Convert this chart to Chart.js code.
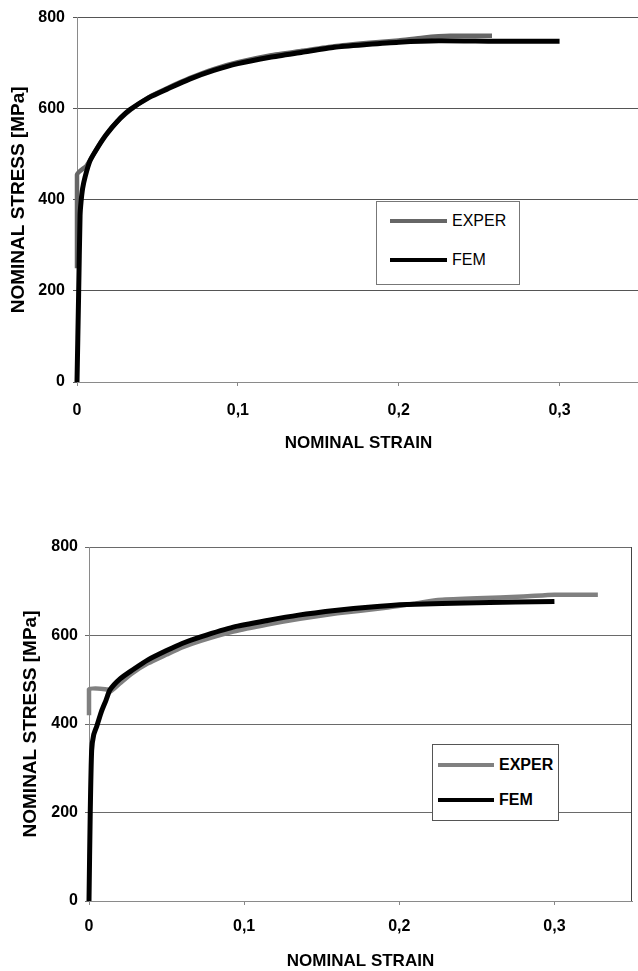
<!DOCTYPE html>
<html>
<head>
<meta charset="utf-8">
<title>Nominal stress vs nominal strain</title>
<script src="https://cdn.jsdelivr.net/npm/chart.js@4.4.1/dist/chart.umd.min.js"></script>
<style>
  html, body { margin: 0; padding: 0; background: #fff; width: 638px; height: 971px; overflow: hidden; }
  .wrap { position: absolute; left: 0; }
  #topWrap { top: 0; width: 650px; height: 470px; }
  #botWrap { top: 480px; width: 638px; height: 500px; }
  .legend {
    position: absolute; background: #fff; box-sizing: border-box;
    font-family: "Liberation Sans", Arial, sans-serif; color: #000;
  }
  .legend .row { position: absolute; left: 0; height: 20px; }
  .legend .swatch { position: absolute; top: 8px; height: 4px; }
  .legend .lbl { position: absolute; top: 0; line-height: 20px; font-size: 16px; }
  #topLegend { left: 376px; top: 201px; width: 144px; height: 84px; border: 1px solid #777; }
  #botLegend { left: 432px; top: 744px; width: 127px; height: 77px; border: 1px solid #555; }
  #botLegend .lbl { font-weight: bold; }
</style>
</head>
<body>
<div class="wrap" id="topWrap"><canvas id="topChart" width="650" height="470"></canvas></div>
<div class="wrap" id="botWrap"><canvas id="botChart" width="638" height="500"></canvas></div>
<div class="legend" id="topLegend"></div>
<div class="legend" id="botLegend"></div>

<script>
// tick labels
const strainTicks = [0, 0.1, 0.2, 0.3];
const stressTicks = [0, 200, 400, 600, 800];

// top chart - experiment
const topExpStrain = [0, 0, 0.006, 0.01, 0.015, 0.02, 0.027, 0.035, 0.045, 0.056, 0.07, 0.085, 0.1, 0.12, 0.14, 0.16, 0.18, 0.2, 0.215, 0.232, 0.258];
const topExpStress = [250, 455, 475, 498, 528, 552, 578, 602, 626, 645, 667, 687, 702, 717, 727, 737, 744, 750, 756, 760, 760];

// top chart - FEM
const topFemStrain = [0, 0.001, 0.0019, 0.0025, 0.0035, 0.005, 0.008, 0.012, 0.018, 0.025, 0.033, 0.045, 0.056, 0.07, 0.085, 0.1, 0.12, 0.14, 0.16, 0.18, 0.2, 0.225, 0.26, 0.3];
const topFemStress = [0, 190, 365, 395, 425, 450, 485, 510, 542, 572, 598, 625, 643, 665, 684, 699, 713, 724, 735, 741, 746, 749, 748, 748];

// bottom chart - experiment
const botExpStrain = [0, 0, 0.012, 0.014, 0.02, 0.028, 0.038, 0.05, 0.06, 0.072, 0.093, 0.115, 0.136, 0.16, 0.19, 0.21, 0.225, 0.25, 0.28, 0.3, 0.328];
const botExpStress = [420, 478, 478, 474, 492, 515, 537, 557, 573, 588, 609, 625, 638, 650, 662, 672, 680, 684, 688, 692, 692];

// bottom chart - FEM
const botFemStrain = [0, 0.0008, 0.0017, 0.003, 0.005, 0.008, 0.011, 0.0135, 0.02, 0.028, 0.038, 0.05, 0.06, 0.072, 0.093, 0.115, 0.135, 0.16, 0.18, 0.205, 0.25, 0.3];
const botFemStress = [0, 200, 340, 375, 395, 428, 454, 477, 502, 522, 545, 566, 582, 597, 619, 634, 646, 657, 664, 670, 674, 677];

Chart.defaults.font.family = '"Liberation Sans", Arial, sans-serif';
Chart.defaults.color = '#000';

function toPoints(xs, ys) {
    return xs.map((x, i) => ({ x: x, y: ys[i] }));
}

function strainLabel(v) {
    return v === 0 ? '0' : v.toFixed(1).replace('.', ',');
}

// right-hand frame line for the lower chart
const framePlugin = {
    id: 'frame',
    afterDraw(chart, args, opts) {
        if (!opts.right) return;
        const a = chart.chartArea;
        const ctx = chart.ctx;
        ctx.save();
        ctx.strokeStyle = opts.color;
        ctx.lineWidth = 1;
        ctx.beginPath();
        ctx.moveTo(a.right - 0.5, a.top);
        ctx.lineTo(a.right - 0.5, a.bottom);
        ctx.stroke();
        ctx.restore();
    }
};

function makeChart(id, cfg) {
    const ctx = document.getElementById(id).getContext('2d');
    return new Chart(ctx, {
        type: 'scatter',
        data: {
            datasets: [
                {
                    label: 'EXPER',
                    data: toPoints(cfg.expX, cfg.expY),
                    showLine: true,
                    borderColor: cfg.expColor,
                    borderWidth: 4.5,
                    pointRadius: 0,
                    tension: 0.2,
                    clip: false,
                    order: 1
                },
                {
                    label: 'FEM',
                    data: toPoints(cfg.femX, cfg.femY),
                    showLine: true,
                    borderColor: '#000',
                    borderWidth: 5,
                    pointRadius: 0,
                    tension: 0.2,
                    clip: false,
                    order: 0
                }
            ]
        },
        options: {
            responsive: false,
            animation: false,
            layout: { padding: { top: cfg.padTop, right: cfg.padRight, left: 0, bottom: 0 } },
            plugins: {
                legend: { display: false },
                tooltip: { enabled: false },
                frame: { right: cfg.frame, color: '#444' }
            },
            scales: {
                x: {
                    type: 'linear',
                    min: 0,
                    max: 0.35,
                    afterBuildTicks: scale => { scale.ticks = strainTicks.map(v => ({ value: v })); },
                    afterFit: scale => { scale.height = cfg.xHeight; },
                    ticks: {
                        font: { size: 16, weight: 'bold' },
                        padding: cfg.xTickPad,
                        maxRotation: 0,
                        callback: v => strainLabel(v)
                    },
                    grid: { drawOnChartArea: false, drawTicks: true, tickLength: 4, color: '#888' },
                    border: { display: true, color: '#8a8a8a', width: 1 },
                    title: {
                        display: true,
                        text: 'NOMINAL STRAIN',
                        font: { size: 17, weight: 'bold' },
                        padding: { top: 0, bottom: cfg.xTitlePad }
                    }
                },
                y: {
                    type: 'linear',
                    min: 0,
                    max: 800,
                    afterBuildTicks: scale => { scale.ticks = stressTicks.map(v => ({ value: v })); },
                    afterFit: scale => { scale.width = cfg.yWidth; },
                    ticks: {
                        font: { size: 16, weight: 'bold' },
                        padding: cfg.yTickPad
                    },
                    grid: { color: cfg.gridColor, tickLength: 4, drawTicks: true },
                    border: { display: true, color: '#8a8a8a', width: 1 },
                    title: {
                        display: true,
                        text: 'NOMINAL STRESS [MPa]',
                        font: { size: 19, weight: 'bold' },
                        padding: { top: cfg.yTitlePad, bottom: 0 }
                    }
                }
            }
        },
        plugins: [framePlugin]
    });
}

// html legend built from the chart's own datasets
function buildLegend(chart, elId, rowTops, lineLeft, lineWidth, textLeft) {
    const box = document.getElementById(elId);
    chart.data.datasets.forEach((ds, i) => {
        const row = document.createElement('div');
        row.className = 'row';
        row.style.top = rowTops[i] + 'px';
        row.style.width = '100%';
        const sw = document.createElement('div');
        sw.className = 'swatch';
        sw.style.left = lineLeft + 'px';
        sw.style.width = lineWidth + 'px';
        sw.style.background = ds.borderColor;
        const lbl = document.createElement('div');
        lbl.className = 'lbl';
        lbl.style.left = textLeft + 'px';
        lbl.textContent = ds.label;
        row.appendChild(sw);
        row.appendChild(lbl);
        box.appendChild(row);
    });
}

const topChart = makeChart('topChart', {
    expX: topExpStrain, expY: topExpStress, femX: topFemStrain, femY: topFemStress,
    expColor: '#666',
    gridColor: '#555',
    padTop: 15, padRight: 10,
    xHeight: 88, yWidth: 77,
    xTickPad: 15, yTickPad: 8,
    xTitlePad: 16, yTitlePad: 7,
    frame: false
});

const botChart = makeChart('botChart', {
    expX: botExpStrain, expY: botExpStress, femX: botFemStrain, femY: botFemStress,
    expColor: '#808080',
    gridColor: '#6a6a6a',
    padTop: 67, padRight: 6,
    xHeight: 79, yWidth: 89,
    xTickPad: 12, yTickPad: 7,
    xTitlePad: 8, yTitlePad: 19,
    frame: true
});

buildLegend(topChart, 'topLegend', [9, 48], 13, 57, 75);
buildLegend(botChart, 'botLegend', [10, 45], 5, 56, 66);
</script>
</body>
</html>
